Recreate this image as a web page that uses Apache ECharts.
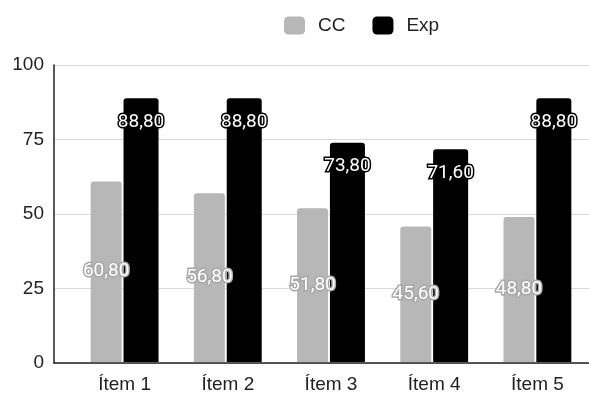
<!DOCTYPE html>
<html><head><meta charset="utf-8">
<script src="https://cdn.jsdelivr.net/npm/echarts@6/dist/echarts.min.js"></script>
<style>html,body{margin:0;padding:0;background:#fff}#c{width:589px;height:394px}</style>
</head><body><div id="c"></div>
<script>
var categories = ['Ítem 1','Ítem 2','Ítem 3','Ítem 4','Ítem 5'];
var ccValues = [60.8, 56.8, 51.8, 45.6, 48.8];
var expValues = [88.8, 88.8, 73.8, 71.6, 88.8];
var yMin = 0, yMax = 100, yStep = 25;
function fmt(p){ return p.value.toFixed(2).replace('.', ','); }
var FONT = 'Liberation Sans';
var LFONT = 'Roboto';
var chart = echarts.init(document.getElementById('c'));
chart.setOption({
  animation:false,
  textStyle:{fontFamily:FONT},
  legend:{top:11,left:279,itemWidth:21,itemHeight:18,itemGap:27,
    textStyle:{fontSize:19,color:'#222',fontFamily:FONT,padding:[0,0,0,8]},
    data:[{name:'CC',icon:'roundRect'},{name:'Exp',icon:'roundRect'}]},
  grid:[
    {left:54,right:0,top:65,bottom:31},
    {left:73,right:-10,top:65,bottom:31}
  ],
  xAxis:[
    {gridIndex:0,type:'category',data:categories,
     axisLine:{lineStyle:{color:'#222',width:1.5}},axisTick:{show:false},axisLabel:{show:false}},
    {gridIndex:1,type:'category',data:categories,
     axisLine:{show:false},axisTick:{show:false},
     axisLabel:{fontSize:19,color:'#222',margin:13,fontFamily:FONT}}
  ],
  yAxis:[
    {gridIndex:0,type:'value',min:yMin,max:yMax,interval:yStep,
     axisLine:{show:true,lineStyle:{color:'#222',width:1.5}},axisTick:{show:false},
     axisLabel:{fontSize:19,color:'#222',margin:10,fontFamily:FONT},
     splitLine:{lineStyle:{color:'#d9d9d9'}}},
    {gridIndex:1,type:'value',min:yMin,max:yMax,interval:yStep,show:false}
  ],
  series:[
    {name:'CC',type:'bar',xAxisIndex:1,yAxisIndex:1,data:ccValues,barWidth:31,barGap:'6%',
     itemStyle:{color:'#b7b7b7',borderRadius:[3,3,0,0]},
     label:{show:true,position:'inside',formatter:fmt,fontSize:19,color:'#fff',
       textBorderColor:'#a8a8a8',textBorderWidth:3,fontFamily:LFONT}},
    {name:'Exp',type:'bar',xAxisIndex:1,yAxisIndex:1,data:expValues,barWidth:35,
     itemStyle:{color:'#000',borderRadius:[3,3,0,0]},
     label:{show:true,position:'insideTop',distance:14,formatter:fmt,fontSize:19,color:'#fff',
       textBorderColor:'#000',textBorderWidth:3,fontFamily:LFONT}}
  ]
});
</script></body></html>
